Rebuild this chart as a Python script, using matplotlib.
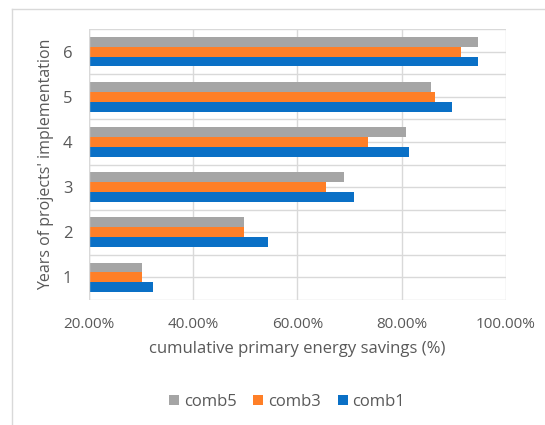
import matplotlib.pyplot as plt
import numpy as np
from matplotlib.ticker import FuncFormatter
from matplotlib.lines import Line2D

years = ['1', '2', '3', '4', '5', '6']
comb1 = [32.3, 54.3, 70.9, 81.4, 89.7, 94.7]
comb3 = [30.2, 49.8, 65.4, 73.6, 86.3, 91.3]
comb5 = [30.1, 49.8, 69.0, 80.8, 85.6, 94.7]

plt.rcParams['font.family'] = ['Open Sans', 'DejaVu Sans']
txt = '#595959'
grid_c = '#d9d9d9'

fig = plt.figure(figsize=(5.45, 4.25), dpi=100)
ax = fig.add_axes([89 / 545, 1 - 300 / 425, 417 / 545, 271 / 425])

y = np.arange(len(years))
h = 0.22
ax.barh(y - h, comb1, h, color='#0A70C6', label='comb1', zorder=3)
ax.barh(y, comb3, h, color='#FF7F27', label='comb3', zorder=3)
ax.barh(y + h, comb5, h, color='#A5A5A5', label='comb5', zorder=3)

ax.set_xlim(20, 100)
ax.set_ylim(-0.5, 5.5)
ax.set_xticks([20, 40, 60, 80, 100])
ax.xaxis.set_major_formatter(FuncFormatter(lambda v, p: f'{v:.2f}%'))
ax.set_yticks(y)
ax.set_yticklabels(years)

# gridlines: vertical at ticks, horizontal at centers and boundaries
ax.grid(axis='x', color=grid_c, linewidth=1, zorder=0)
for yy in np.arange(-0.5, 5.6, 0.5):
    ax.axhline(yy, color=grid_c, linewidth=1, zorder=0)

for s in ax.spines.values():
    s.set_visible(False)
ax.axvline(20, color=grid_c, linewidth=1, zorder=4)
ax.tick_params(length=0, colors=txt)
ax.tick_params(axis='x', pad=12, labelsize=11)
ax.tick_params(axis='y', pad=12, labelsize=12)

ax.set_xlabel('cumulative primary energy savings (%)', fontsize=12, color=txt, labelpad=7)
ax.set_ylabel("Years of projects' implementation", fontsize=11.5, color=txt, labelpad=6)

handles, labels = ax.get_legend_handles_labels()
leg = fig.legend(handles[::-1], labels[::-1], loc='center', bbox_to_anchor=(287 / 545, 1 - 402 / 425),
                 ncol=3, frameon=False, fontsize=12, handlelength=0.6, handleheight=0.6,
                 columnspacing=1.0, handletextpad=0.3)
for t in leg.get_texts():
    t.set_color(txt)

# chart frame
fig.add_artist(Line2D([12 / 545, 12 / 545], [0, 1 - 9 / 425], transform=fig.transFigure, color=grid_c, linewidth=1))
fig.add_artist(Line2D([12 / 545, 1], [1 - 9 / 425, 1 - 9 / 425], transform=fig.transFigure, color=grid_c, linewidth=1))

fig.savefig('out.png', dpi=100)
